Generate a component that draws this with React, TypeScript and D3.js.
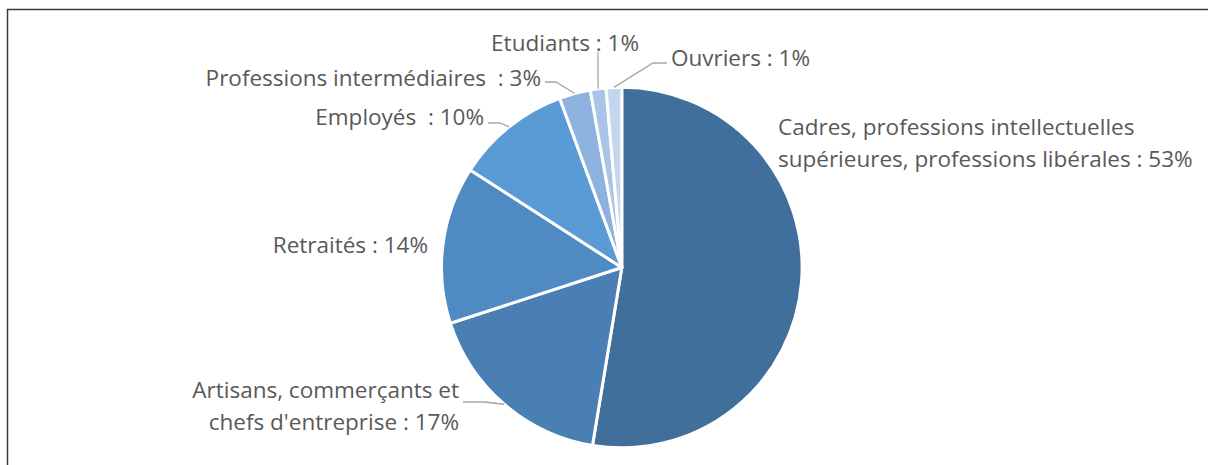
import React from "react";
import * as d3 from "d3";

const categories = [
  "Cadres, professions intellectuelles supérieures, professions libérales",
  "Artisans, commerçants et chefs d'entreprise",
  "Retraités",
  "Employés ",
  "Professions intermédiaires ",
  "Etudiants",
  "Ouvriers",
];
const values = [52.6, 17.4, 14.1, 10.3, 2.8, 1.4, 1.4];
const colors = ["#416F9B", "#4A7FB3", "#508AC3", "#5B9BD5", "#8DB2DE", "#AAC4E7", "#C4D6EE"];

// label layout: lines, anchor position, text-anchor, leader elbow points
const labelLines = [
  ["Cadres, professions intellectuelles", "supérieures, professions libérales : "],
  ["Artisans, commerçants et", "chefs d'entreprise : "],
  ["Retraités : "],
  ["Employés  : "],
  ["Professions intermédiaires  : "],
  ["Etudiants : "],
  ["Ouvriers : "],
];
const labelLayout = [
  { x: 778, y: 126, anchor: "start", leader: null as null | number[][] },
  { x: 459, y: 389, anchor: "end", leader: [[463, 402], [484, 402]] },
  { x: 428, y: 244, anchor: "end", leader: null },
  { x: 484, y: 116, anchor: "end", leader: [[488, 123], [500, 123]] },
  { x: 541, y: 77, anchor: "end", leader: [[545, 82], [556, 82]] },
  { x: 639, y: 42, anchor: "end", leader: [[598, 52]] },
  { x: 810, y: 57, anchor: "end", leader: [[667, 63], [653, 63]] },
];

const W = 1208;
const H = 465;
const cx = 621.8;
const cy = 267.5;
const R = 180.3;
const lineGap = 32;

export default function App() {
  const pie = d3.pie<number>().sort(null).value((d) => d)(values);
  const arc = d3.arc<d3.PieArcDatum<number>>().innerRadius(0).outerRadius(R);
  const total = d3.sum(values);

  return (
    <svg
      width={W}
      height={H}
      style={{ position: "absolute", left: 0, top: 0, background: "#fff" }}
      fontFamily="'Open Sans', 'Noto Sans', sans-serif"
    >
      <rect x={7.5} y={9.5} width={1300} height={600} fill="#fff" stroke="#3a3a3a" strokeWidth={1.5} />
      <g transform={`translate(${cx},${cy})`}>
        {pie.map((p, i) => (
          <path key={i} d={arc(p) || ""} fill={colors[i]} stroke="#fff" strokeWidth={3} strokeLinejoin="round" />
        ))}
      </g>
      {pie.map((p, i) => {
        const lay = labelLayout[i];
        if (!lay.leader) return null;
        const mid = (p.startAngle + p.endAngle) / 2;
        const ex = cx + R * Math.sin(mid);
        const ey = cy - R * Math.cos(mid);
        const pts = [...lay.leader, [ex, ey]];
        return (
          <polyline
            key={"l" + i}
            points={pts.map((q) => q.join(",")).join(" ")}
            fill="none"
            stroke="#A6A6A6"
            strokeWidth={1.3}
          />
        );
      })}
      {values.map((v, i) => {
        const lay = labelLayout[i];
        const pct = Math.round((v / total) * 100) + "%";
        const lines = labelLines[i];
        return (
          <text
            key={"t" + i}
            x={lay.x}
            y={lay.y}
            textAnchor={lay.anchor as any}
            dominantBaseline="central"
            fontSize={22.5}
            fill="#595959"
            style={{ whiteSpace: "pre" }}
          >
            {lines.map((ln, j) => (
              <tspan key={j} x={lay.x} dy={j === 0 ? 0 : lineGap}>
                {j === lines.length - 1 ? ln + pct : ln}
              </tspan>
            ))}
          </text>
        );
      })}
    </svg>
  );
}
